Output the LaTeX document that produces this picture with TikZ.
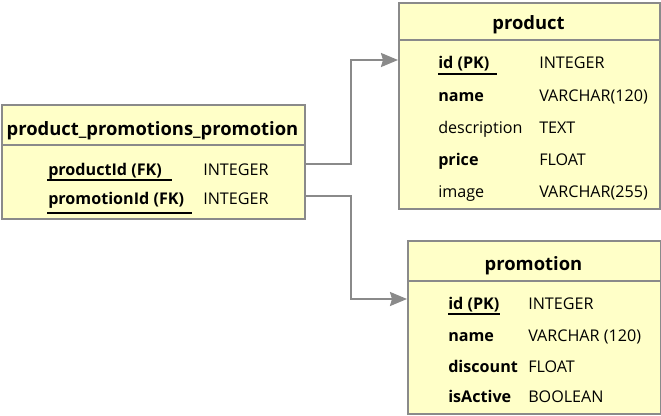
\documentclass[tikz,border=0pt]{standalone}
\usepackage{fontspec}
\setmainfont{Open Sans}
\usetikzlibrary{arrows.meta}
\definecolor{tfill}{HTML}{FFFFC8}
\definecolor{tline}{HTML}{8A8A8A}
\begin{document}
\begin{tikzpicture}[x=0.75pt,y=-0.75pt,
  tbl/.style={draw=tline, fill=tfill, line width=1.5pt, inner sep=0, anchor=north west},
  sep/.style={draw=tline, line width=1.5pt},
  hdr/.style={font=\fontsize{13.8}{16}\selectfont\bfseries, anchor=base, inner sep=0, yshift=-6.5*0.75pt},
  fld/.style={font=\fontsize{12.1}{14}\selectfont, anchor=base west, inner sep=0, yshift=-5.5*0.75pt},
  key/.style={font=\fontsize{12.1}{14}\selectfont\bfseries, anchor=base west, inner sep=0, yshift=-5.5*0.75pt},
  uline/.style={line width=1.5pt, black},
  conn/.style={draw=tline, line width=1.5pt, -{Stealth[length=12.75pt,width=10.5pt,inset=1.5pt]}}]
\useasboundingbox (0,0) rectangle (661,415);
\fill[white] (0,0) rectangle (661,415);

% product_promotions_promotion
\node[tbl, minimum width=227.25pt, minimum height=85.5pt] (ppp) at (1,104) {};
\draw[sep] (1,145) -- (304,145);
\node[hdr] (ppph) at (152.5,129) {product\_promotions\_promotion};
\node[key] (pppk1) at (48,170) {productId (FK)};
\node[fld] (pppt1) at (203,170) {INTEGER};
\node[key] (pppk2) at (48,199) {promotionId (FK)};
\node[fld] (pppt2) at (203,199) {INTEGER};
\draw[uline] (47,180) -- (172,180);
\draw[uline] (47,213) -- (192,213);

% product
\node[tbl, minimum width=195.75pt, minimum height=154.5pt] (prod) at (398,2) {};
\draw[sep] (398,40) -- (659,40);
\node[hdr] (prodh) at (528.5,23) {product};
\node[key] (prodk1) at (438,63) {id (PK)};
\node[fld] (prodt1) at (539,63) {INTEGER};
\node[key] (prodk2) at (438,96) {name};
\node[fld] (prodt2) at (539,96) {VARCHAR(120)};
\node[fld] (prodk3) at (438,128) {description};
\node[fld] (prodt3) at (539,128) {TEXT};
\node[key] (prodk4) at (438,160) {price};
\node[fld] (prodt4) at (539,160) {FLOAT};
\node[fld] (prodk5) at (438,192) {image};
\node[fld] (prodt5) at (539,192) {VARCHAR(255)};
\draw[uline] (438,74) -- (497,74);

% promotion
\node[tbl, minimum width=189.75pt, minimum height=129.75pt] (prom) at (407,240) {};
\draw[sep] (407,281) -- (660,281);
\node[hdr] (promh) at (533.5,264) {promotion};
\node[key] (promk1) at (448,304) {id (PK)};
\node[fld] (promt1) at (528,304) {INTEGER};
\node[key] (promk2) at (448,336) {name};
\node[fld] (promt2) at (528,336) {VARCHAR (120)};
\node[key] (promk3) at (448,367) {discount};
\node[fld] (promt3) at (528,367) {FLOAT};
\node[key] (promk4) at (448,397) {isActive};
\node[fld] (promt4) at (528,397) {BOOLEAN};
\draw[uline] (448,314) -- (500,314);

% connectors
\coordinate (s1) at (304,164);
\coordinate (e1) at (398,60);
\coordinate (s2) at (304,196);
\coordinate (e2) at (407,299);
\draw[conn] (s1) -- (351,164) -- (351,60) -- (e1);
\draw[conn] (s2) -- (351,196) -- (351,299) -- (e2);
\end{tikzpicture}
\end{document}
